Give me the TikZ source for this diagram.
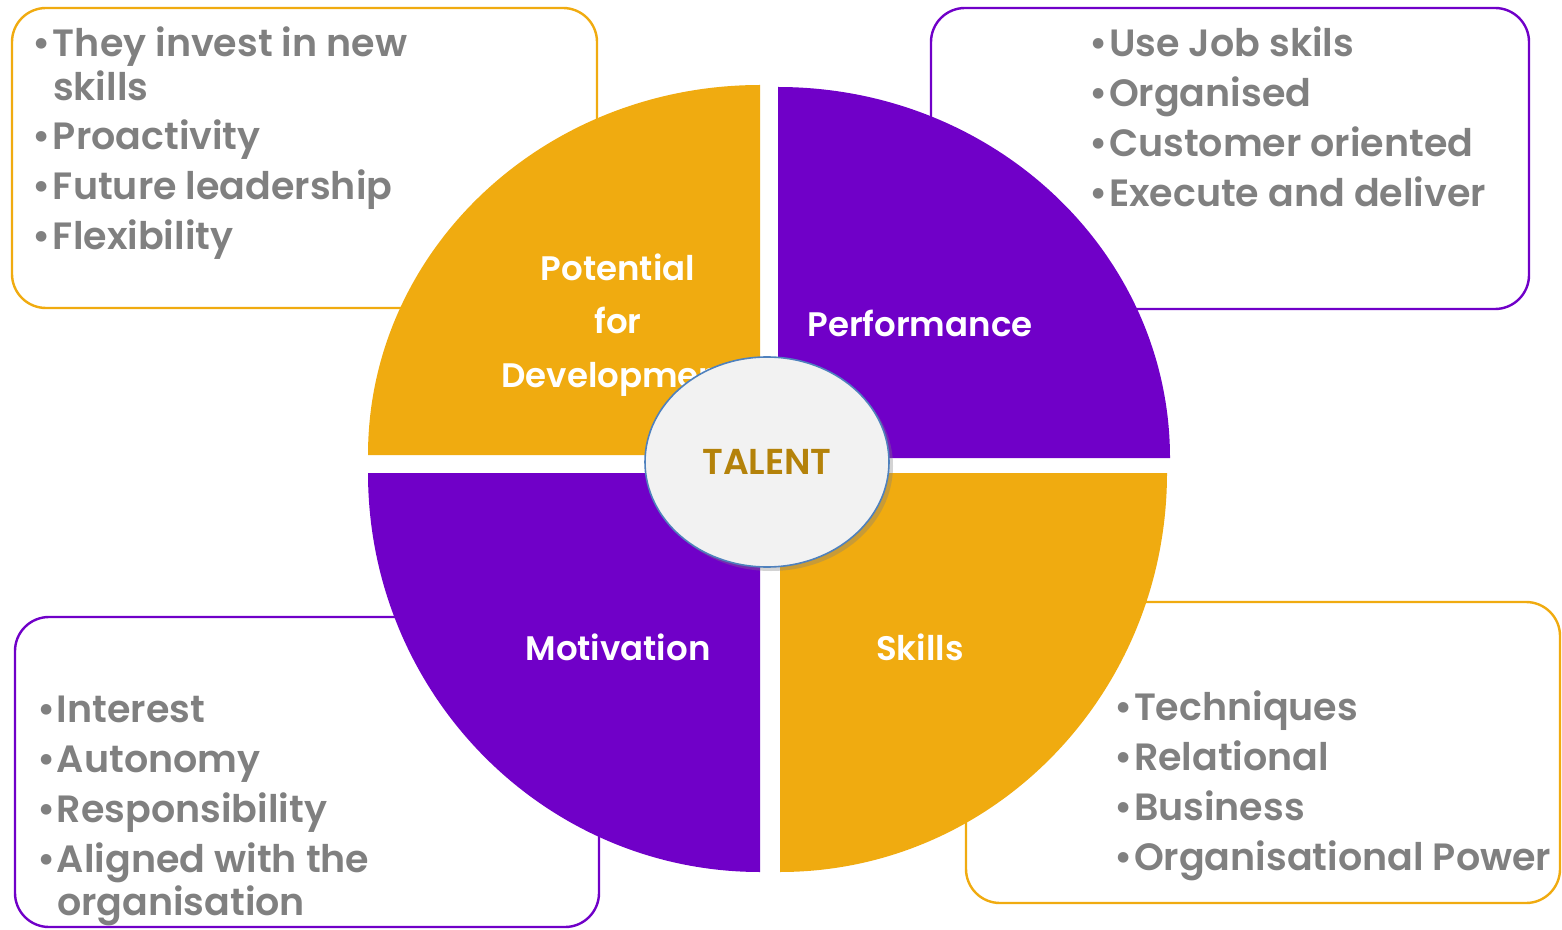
\documentclass[tikz,border=0pt]{standalone}
\usepackage{fontspec}
\setmainfont{Poppins}[BoldFont={Poppins SemiBold}]
\usetikzlibrary{shapes.geometric,shadows}

\definecolor{talentorange}{HTML}{F0AB10}
\definecolor{talentpurple}{HTML}{7000C8}
\definecolor{itemgray}{HTML}{808080}
\definecolor{talentgold}{HTML}{B4820A}
\definecolor{rimblue}{HTML}{4F81BD}
\definecolor{centerfill}{HTML}{F2F2F2}

\tikzset{every path/.style={line width=1 pt}}
\tikzset{
  listbox/.style={rounded corners=17pt, line width=1.2pt},
  item/.style={anchor=base west, inner sep=0pt, text=itemgray,
    font=\bfseries\fontsize{19}{23}\selectfont},
  quarterlabel/.style={anchor=base, inner sep=0pt, text=white,
    font=\bfseries\fontsize{17}{21}\selectfont},
}
\newcommand{\bul}{\makebox[8pt][l]{\hspace*{-2pt}\textbullet}}
\newcommand{\nobul}{\hspace*{8pt}}

\begin{document}
\begin{tikzpicture}[x=0.5pt,y=-0.5pt]
\useasboundingbox (0,0) rectangle (1562,930);
% boxes behind the wheel
\draw[listbox, talentorange] (12,8) rectangle (597,308);
\draw[listbox, talentpurple] (931,8) rectangle (1529,309);
\draw[listbox, talentpurple] (15,617) rectangle (599,927);
\draw[listbox, talentorange] (966,602) rectangle (1560,903);
% the four quarters
\fill[talentorange] (760,455) -- (368,455) arc[start angle=180, end angle=270, x radius=392, y radius=370] -- cycle;
\fill[talentpurple] (778,458) -- (778,87) arc[start angle=270, end angle=360, x radius=392, y radius=371] -- cycle;
\fill[talentpurple] (760,473) -- (368,473) arc[start angle=180, end angle=90, x radius=392, y radius=399] -- cycle;
\fill[talentorange] (780,473) -- (1167,473) arc[start angle=0, end angle=90, x radius=387, y radius=399] -- cycle;
% quarter labels
\node[quarterlabel] (pot1) at (618,281) {Potential};
\node[quarterlabel] (pot2) at (618,334) {for};
\node[quarterlabel] (pot3) at (618,387) {Development};
\node[quarterlabel] (perf) at (920,337) {Performance};
\node[quarterlabel] (moti) at (618,660) {Motivation};
\node[quarterlabel] (skil) at (920,660) {Skills};
% centre
\node[ellipse, draw=rimblue, line width=0.8pt, fill=centerfill, inner sep=0pt,
  minimum width=122pt, minimum height=105pt,
  drop shadow={shadow xshift=2pt, shadow yshift=-2pt, opacity=0.35},
  text=talentgold, font=\bfseries\fontsize{18}{22}\selectfont] (talent) at (767,462) {TALENT};
% lists
\foreach \y/\txt [count=\i] in {57/{\bul They invest in new}, 101/{\nobul skills},
    150/{\bul Proactivity}, 200/{\bul Future leadership}, 250/{\bul Flexibility}}
  \node[item] (potitem\i) at (36,\y) {\txt};
\foreach \y/\txt [count=\i] in {57/{Use Job skils}, 107/{Organised},
    157/{Customer oriented}, 207/{Execute and deliver}}
  \node[item] (perfitem\i) at (1092,\y) {\bul\txt};
\foreach \y/\txt [count=\i] in {722/{\bul Interest}, 772/{\bul Autonomy},
    822/{\bul Responsibility}, 872/{\bul Aligned with the}, 915/{\nobul organisation}}
  \node[item] (motiitem\i) at (40,\y) {\txt};
\foreach \y/\txt [count=\i] in {720/{Techniques}, 770/{Relational},
    820/{Business}, 870/{Organisational Power}}
  \node[item] (skilitem\i) at (1117,\y) {\bul\txt};
\end{tikzpicture}
\end{document}
